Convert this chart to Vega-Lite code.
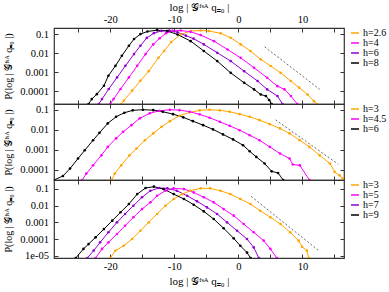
{
  "$schema": "https://vega.github.io/schema/vega-lite/v6.json",
  "padding": {"left": 3, "top": 0, "right": 0, "bottom": 0},
  "background": "white",
  "spacing": 0,
  "bounds": "flush",
  "config": {
    "font": "Liberation Serif",
    "view": {"stroke": "#333", "strokeWidth": 1.2},
    "axis": {
      "domain": false, "grid": false, "tickSize": -4, "tickColor": "#333", "tickWidth": 1,
      "labelFont": "Liberation Serif", "labelFontSize": 10.5, "labelColor": "#000",
      "titleFont": "Liberation Serif", "titleFontSize": 11, "titleFontWeight": "normal", "titleColor": "#000"
    },
    "axisLeft": {"titleFontSize": 10},
    "legend": {
      "orient": "right", "offset": 5, "padding": 0, "rowPadding": -1,
      "labelFont": "Liberation Serif", "labelFontSize": 10, "labelColor": "#000", "labelOffset": 3,
      "symbolType": "stroke", "symbolSize": 64, "symbolStrokeWidth": 1.5
    }
  },
  "datasets": {
    "curves": [
      {"panel":1,"h":"h=2.6","x":-18.3,"p":2.09e-5},{"panel":1,"h":"h=2.6","x":-17.9,"p":3.09e-5},{"panel":1,"h":"h=2.6","x":-16.6,"p":1.05e-4},{"panel":1,"h":"h=2.6","x":-15.3,"p":3.47e-4},{"panel":1,"h":"h=2.6","x":-14.0,"p":1.12e-3},{"panel":1,"h":"h=2.6","x":-12.5,"p":5.62e-3},{"panel":1,"h":"h=2.6","x":-11.6,"p":0.0129},{"panel":1,"h":"h=2.6","x":-10.5,"p":0.038},{"panel":1,"h":"h=2.6","x":-9.0,"p":0.0955},{"panel":1,"h":"h=2.6","x":-7.45,"p":0.145},{"panel":1,"h":"h=2.6","x":-5.9,"p":0.155},{"panel":1,"h":"h=2.6","x":-4.6,"p":0.145},{"panel":1,"h":"h=2.6","x":-2.76,"p":0.11},{"panel":1,"h":"h=2.6","x":-1.2,"p":0.0646},{"panel":1,"h":"h=2.6","x":0.36,"p":0.0288},{"panel":1,"h":"h=2.6","x":1.9,"p":0.0129},{"panel":1,"h":"h=2.6","x":3.5,"p":0.00468},{"panel":1,"h":"h=2.6","x":5.05,"p":0.00209},{"panel":1,"h":"h=2.6","x":6.6,"p":0.000912},{"panel":1,"h":"h=2.6","x":8.2,"p":0.000339},{"panel":1,"h":"h=2.6","x":9.5,"p":0.000151},{"panel":1,"h":"h=2.6","x":10.8,"p":6.61e-5},{"panel":1,"h":"h=2.6","x":11.8,"p":2.95e-5},{"panel":1,"h":"h=2.6","x":12.3,"p":2.09e-5},
      {"panel":1,"h":"h=4","x":-20.0,"p":2.09e-5},{"panel":1,"h":"h=4","x":-19.5,"p":3.8e-5},{"panel":1,"h":"h=4","x":-18.4,"p":1.29e-4},{"panel":1,"h":"h=4","x":-17.1,"p":5.25e-4},{"panel":1,"h":"h=4","x":-15.8,"p":2.14e-3},{"panel":1,"h":"h=4","x":-14.5,"p":8.91e-3},{"panel":1,"h":"h=4","x":-13.3,"p":0.0288},{"panel":1,"h":"h=4","x":-12.3,"p":0.0603},{"panel":1,"h":"h=4","x":-11.3,"p":0.112},{"panel":1,"h":"h=4","x":-10.3,"p":0.148},{"panel":1,"h":"h=4","x":-9.0,"p":0.155},{"panel":1,"h":"h=4","x":-7.45,"p":0.132},{"panel":1,"h":"h=4","x":-5.9,"p":0.0891},{"panel":1,"h":"h=4","x":-3.8,"p":0.0427},{"panel":1,"h":"h=4","x":-1.7,"p":0.0155},{"panel":1,"h":"h=4","x":0.36,"p":0.00562},{"panel":1,"h":"h=4","x":2.45,"p":0.0017},{"panel":1,"h":"h=4","x":4.5,"p":0.000501},{"panel":1,"h":"h=4","x":6.1,"p":0.000182},{"panel":1,"h":"h=4","x":7.2,"p":0.000123},{"panel":1,"h":"h=4","x":8.2,"p":5.5e-5},{"panel":1,"h":"h=4","x":9.2,"p":2.09e-5},
      {"panel":1,"h":"h=6","x":-21.8,"p":2.09e-5},{"panel":1,"h":"h=6","x":-21.3,"p":3.8e-5},{"panel":1,"h":"h=6","x":-20.25,"p":1.29e-4},{"panel":1,"h":"h=6","x":-18.95,"p":5.25e-4},{"panel":1,"h":"h=6","x":-17.65,"p":2.14e-3},{"panel":1,"h":"h=6","x":-16.3,"p":8.91e-3},{"panel":1,"h":"h=6","x":-15.3,"p":0.0245},{"panel":1,"h":"h=6","x":-14.3,"p":0.0631},{"panel":1,"h":"h=6","x":-13.2,"p":0.112},{"panel":1,"h":"h=6","x":-12.0,"p":0.148},{"panel":1,"h":"h=6","x":-10.8,"p":0.155},{"panel":1,"h":"h=6","x":-9.5,"p":0.126},{"panel":1,"h":"h=6","x":-8.2,"p":0.0832},{"panel":1,"h":"h=6","x":-7.0,"p":0.0575},{"panel":1,"h":"h=6","x":-5.4,"p":0.0288},{"panel":1,"h":"h=6","x":-3.3,"p":0.0105},{"panel":1,"h":"h=6","x":-1.2,"p":0.0038},{"panel":1,"h":"h=6","x":0.9,"p":0.00112},{"panel":1,"h":"h=6","x":3.0,"p":0.000339},{"panel":1,"h":"h=6","x":4.5,"p":0.000123},{"panel":1,"h":"h=6","x":6.1,"p":5.5e-5},{"panel":1,"h":"h=6","x":6.9,"p":2.09e-5},
      {"panel":1,"h":"h=8","x":-23.4,"p":2.09e-5},{"panel":1,"h":"h=8","x":-22.9,"p":3.8e-5},{"panel":1,"h":"h=8","x":-22.1,"p":6.92e-5},{"panel":1,"h":"h=8","x":-21.0,"p":1.91e-4},{"panel":1,"h":"h=8","x":-20.3,"p":6.46e-4},{"panel":1,"h":"h=8","x":-19.2,"p":2.14e-3},{"panel":1,"h":"h=8","x":-18.2,"p":7.24e-3},{"panel":1,"h":"h=8","x":-17.1,"p":0.0245},{"panel":1,"h":"h=8","x":-16.3,"p":0.055},{"panel":1,"h":"h=8","x":-15.3,"p":0.1},{"panel":1,"h":"h=8","x":-14.2,"p":0.138},{"panel":1,"h":"h=8","x":-12.7,"p":0.162},{"panel":1,"h":"h=8","x":-11.1,"p":0.145},{"panel":1,"h":"h=8","x":-9.5,"p":0.0955},{"panel":1,"h":"h=8","x":-7.45,"p":0.0427},{"panel":1,"h":"h=8","x":-5.4,"p":0.0129},{"panel":1,"h":"h=8","x":-3.3,"p":0.0038},{"panel":1,"h":"h=8","x":-1.2,"p":0.000912},{"panel":1,"h":"h=8","x":0.9,"p":0.000275},{"panel":1,"h":"h=8","x":2.45,"p":0.000123},{"panel":1,"h":"h=8","x":3.5,"p":6.61e-5},{"panel":1,"h":"h=8","x":4.3,"p":5.5e-5},{"panel":1,"h":"h=8","x":4.8,"p":3.39e-5},{"panel":1,"h":"h=8","x":5.2,"p":2.09e-5},

      {"panel":2,"h":"h=3","x":-19.8,"p":3.16e-5},{"panel":2,"h":"h=3","x":-19.3,"p":6.61e-5},{"panel":2,"h":"h=3","x":-18.3,"p":1.7e-4},{"panel":2,"h":"h=3","x":-17.0,"p":5.37e-4},{"panel":2,"h":"h=3","x":-15.9,"p":1.17e-3},{"panel":2,"h":"h=3","x":-14.6,"p":3.02e-3},{"panel":2,"h":"h=3","x":-13.3,"p":6.61e-3},{"panel":2,"h":"h=3","x":-12.0,"p":0.0141},{"panel":2,"h":"h=3","x":-10.7,"p":0.0269},{"panel":2,"h":"h=3","x":-9.2,"p":0.0501},{"panel":2,"h":"h=3","x":-7.6,"p":0.0741},{"panel":2,"h":"h=3","x":-6.04,"p":0.0933},{"panel":2,"h":"h=3","x":-4.5,"p":0.1},{"panel":2,"h":"h=3","x":-2.9,"p":0.0933},{"panel":2,"h":"h=3","x":-1.35,"p":0.0794},{"panel":2,"h":"h=3","x":0.2,"p":0.0603},{"panel":2,"h":"h=3","x":1.77,"p":0.0447},{"panel":2,"h":"h=3","x":3.3,"p":0.0302},{"panel":2,"h":"h=3","x":4.9,"p":0.0191},{"panel":2,"h":"h=3","x":6.5,"p":0.0117},{"panel":2,"h":"h=3","x":8.0,"p":0.00661},{"panel":2,"h":"h=3","x":9.6,"p":0.00302},{"panel":2,"h":"h=3","x":11.1,"p":0.00141},{"panel":2,"h":"h=3","x":12.7,"p":0.000537},{"panel":2,"h":"h=3","x":14.3,"p":0.000209},{"panel":2,"h":"h=3","x":15.05,"p":7.94e-5},{"panel":2,"h":"h=3","x":15.8,"p":5.37e-5},{"panel":2,"h":"h=3","x":16.3,"p":3.72e-5},
      {"panel":2,"h":"h=4.5","x":-24.4,"p":3.16e-5},{"panel":2,"h":"h=4.5","x":-23.75,"p":6.61e-5},{"panel":2,"h":"h=4.5","x":-22.7,"p":1.7e-4},{"panel":2,"h":"h=4.5","x":-21.4,"p":5.37e-4},{"panel":2,"h":"h=4.5","x":-20.4,"p":1.41e-3},{"panel":2,"h":"h=4.5","x":-19.1,"p":3.72e-3},{"panel":2,"h":"h=4.5","x":-18.0,"p":7.94e-3},{"panel":2,"h":"h=4.5","x":-16.7,"p":0.017},{"panel":2,"h":"h=4.5","x":-15.4,"p":0.0372},{"panel":2,"h":"h=4.5","x":-13.85,"p":0.0661},{"panel":2,"h":"h=4.5","x":-12.3,"p":0.0891},{"panel":2,"h":"h=4.5","x":-10.7,"p":0.1},{"panel":2,"h":"h=4.5","x":-9.2,"p":0.0955},{"panel":2,"h":"h=4.5","x":-7.6,"p":0.0794},{"panel":2,"h":"h=4.5","x":-6.04,"p":0.0589},{"panel":2,"h":"h=4.5","x":-4.5,"p":0.0398},{"panel":2,"h":"h=4.5","x":-2.9,"p":0.0251},{"panel":2,"h":"h=4.5","x":-1.35,"p":0.0158},{"panel":2,"h":"h=4.5","x":0.2,"p":0.00955},{"panel":2,"h":"h=4.5","x":1.77,"p":0.00537},{"panel":2,"h":"h=4.5","x":3.3,"p":0.00302},{"panel":2,"h":"h=4.5","x":4.9,"p":0.00141},{"panel":2,"h":"h=4.5","x":6.5,"p":0.000661},{"panel":2,"h":"h=4.5","x":8.0,"p":0.000372},{"panel":2,"h":"h=4.5","x":8.5,"p":0.000186},{"panel":2,"h":"h=4.5","x":9.6,"p":0.00017},{"panel":2,"h":"h=4.5","x":11.1,"p":3.16e-5},
      {"panel":2,"h":"h=6","x":-28.8,"p":3.16e-5},{"panel":2,"h":"h=6","x":-27.4,"p":5.01e-5},{"panel":2,"h":"h=6","x":-26.3,"p":1.17e-4},{"panel":2,"h":"h=6","x":-25.05,"p":3.72e-4},{"panel":2,"h":"h=6","x":-24.0,"p":9.55e-4},{"panel":2,"h":"h=6","x":-22.7,"p":3.02e-3},{"panel":2,"h":"h=6","x":-21.7,"p":7.08e-3},{"panel":2,"h":"h=6","x":-20.4,"p":0.0209},{"panel":2,"h":"h=6","x":-19.1,"p":0.0447},{"panel":2,"h":"h=6","x":-17.8,"p":0.0708},{"panel":2,"h":"h=6","x":-16.5,"p":0.0933},{"panel":2,"h":"h=6","x":-14.9,"p":0.1},{"panel":2,"h":"h=6","x":-13.3,"p":0.0955},{"panel":2,"h":"h=6","x":-11.8,"p":0.0794},{"panel":2,"h":"h=6","x":-10.2,"p":0.0603},{"panel":2,"h":"h=6","x":-8.6,"p":0.0417},{"panel":2,"h":"h=6","x":-7.1,"p":0.0269},{"panel":2,"h":"h=6","x":-5.5,"p":0.017},{"panel":2,"h":"h=6","x":-3.96,"p":0.0105},{"panel":2,"h":"h=6","x":-2.4,"p":0.00589},{"panel":2,"h":"h=6","x":-0.83,"p":0.00331},{"panel":2,"h":"h=6","x":0.73,"p":0.0017},{"panel":2,"h":"h=6","x":1.77,"p":0.000851},{"panel":2,"h":"h=6","x":2.8,"p":0.000447},{"panel":2,"h":"h=6","x":4.1,"p":0.000209},{"panel":2,"h":"h=6","x":5.2,"p":8.51e-5},{"panel":2,"h":"h=6","x":6.2,"p":7.08e-5},{"panel":2,"h":"h=6","x":7.0,"p":3.16e-5},

      {"panel":3,"h":"h=3","x":-20.0,"p":7.6e-6},{"panel":3,"h":"h=3","x":-19.2,"p":2.09e-5},{"panel":3,"h":"h=3","x":-17.9,"p":4.07e-5},{"panel":3,"h":"h=3","x":-16.6,"p":1.02e-4},{"panel":3,"h":"h=3","x":-15.3,"p":3.16e-4},{"panel":3,"h":"h=3","x":-14.0,"p":1e-3},{"panel":3,"h":"h=3","x":-12.7,"p":3.16e-3},{"panel":3,"h":"h=3","x":-11.4,"p":9.77e-3},{"panel":3,"h":"h=3","x":-10.1,"p":0.0245},{"panel":3,"h":"h=3","x":-8.8,"p":0.0479},{"panel":3,"h":"h=3","x":-7.5,"p":0.0759},{"panel":3,"h":"h=3","x":-5.9,"p":0.105},{"panel":3,"h":"h=3","x":-4.4,"p":0.105},{"panel":3,"h":"h=3","x":-2.8,"p":0.0759},{"panel":3,"h":"h=3","x":-1.25,"p":0.0479},{"panel":3,"h":"h=3","x":0.3,"p":0.0245},{"panel":3,"h":"h=3","x":1.9,"p":0.0123},{"panel":3,"h":"h=3","x":3.4,"p":0.0049},{"panel":3,"h":"h=3","x":5.0,"p":0.002},{"panel":3,"h":"h=3","x":6.6,"p":0.000794},{"panel":3,"h":"h=3","x":8.1,"p":0.000257},{"panel":3,"h":"h=3","x":9.4,"p":8.13e-5},{"panel":3,"h":"h=3","x":9.95,"p":3.55e-5},{"panel":3,"h":"h=3","x":10.7,"p":2.09e-5},{"panel":3,"h":"h=3","x":11.0,"p":7.6e-6},
      {"panel":3,"h":"h=5","x":-22.3,"p":7.6e-6},{"panel":3,"h":"h=5","x":-21.3,"p":2.63e-5},{"panel":3,"h":"h=5","x":-20.3,"p":6.46e-5},{"panel":3,"h":"h=5","x":-18.96,"p":2.04e-4},{"panel":3,"h":"h=5","x":-17.7,"p":6.31e-4},{"panel":3,"h":"h=5","x":-16.4,"p":2.0e-3},{"panel":3,"h":"h=5","x":-15.05,"p":6.17e-3},{"panel":3,"h":"h=5","x":-13.75,"p":0.0155},{"panel":3,"h":"h=5","x":-12.7,"p":0.038},{"panel":3,"h":"h=5","x":-11.4,"p":0.0759},{"panel":3,"h":"h=5","x":-10.1,"p":0.105},{"panel":3,"h":"h=5","x":-8.5,"p":0.0955},{"panel":3,"h":"h=5","x":-6.98,"p":0.0603},{"panel":3,"h":"h=5","x":-5.4,"p":0.0309},{"panel":3,"h":"h=5","x":-3.85,"p":0.0155},{"panel":3,"h":"h=5","x":-2.3,"p":0.00617},{"panel":3,"h":"h=5","x":-0.73,"p":0.00251},{"panel":3,"h":"h=5","x":0.83,"p":0.000794},{"panel":3,"h":"h=5","x":2.4,"p":0.000257},{"panel":3,"h":"h=5","x":3.96,"p":8.13e-5},{"panel":3,"h":"h=5","x":5.0,"p":2.63e-5},{"panel":3,"h":"h=5","x":6.0,"p":7.6e-6},
      {"panel":3,"h":"h=7","x":-23.6,"p":7.6e-6},{"panel":3,"h":"h=7","x":-22.6,"p":2.09e-5},{"panel":3,"h":"h=7","x":-21.6,"p":6.46e-5},{"panel":3,"h":"h=7","x":-20.3,"p":2.57e-4},{"panel":3,"h":"h=7","x":-18.96,"p":1e-3},{"panel":3,"h":"h=7","x":-17.7,"p":3.16e-3},{"panel":3,"h":"h=7","x":-16.4,"p":9.77e-3},{"panel":3,"h":"h=7","x":-15.05,"p":0.0309},{"panel":3,"h":"h=7","x":-13.75,"p":0.0759},{"panel":3,"h":"h=7","x":-12.4,"p":0.11},{"panel":3,"h":"h=7","x":-11.1,"p":0.105},{"panel":3,"h":"h=7","x":-9.6,"p":0.0759},{"panel":3,"h":"h=7","x":-8.0,"p":0.038},{"panel":3,"h":"h=7","x":-6.46,"p":0.0178},{"panel":3,"h":"h=7","x":-4.9,"p":0.00776},{"panel":3,"h":"h=7","x":-3.33,"p":0.00316},{"panel":3,"h":"h=7","x":-1.77,"p":0.001},{"panel":3,"h":"h=7","x":-0.2,"p":0.000316},{"panel":3,"h":"h=7","x":1.35,"p":0.000102},{"panel":3,"h":"h=7","x":2.4,"p":3.24e-5},{"panel":3,"h":"h=7","x":3.2,"p":7.6e-6},
      {"panel":3,"h":"h=9","x":-25.4,"p":7.6e-6},{"panel":3,"h":"h=9","x":-24.2,"p":2.63e-5},{"panel":3,"h":"h=9","x":-23.4,"p":5.13e-5},{"panel":3,"h":"h=9","x":-22.3,"p":1.29e-4},{"panel":3,"h":"h=9","x":-21.0,"p":3.98e-4},{"panel":3,"h":"h=9","x":-19.7,"p":1.26e-3},{"panel":3,"h":"h=9","x":-18.4,"p":3.98e-3},{"panel":3,"h":"h=9","x":-17.1,"p":0.0123},{"panel":3,"h":"h=9","x":-15.8,"p":0.0479},{"panel":3,"h":"h=9","x":-14.5,"p":0.11},{"panel":3,"h":"h=9","x":-13.2,"p":0.132},{"panel":3,"h":"h=9","x":-11.7,"p":0.0955},{"panel":3,"h":"h=9","x":-10.1,"p":0.0479},{"panel":3,"h":"h=9","x":-8.5,"p":0.0245},{"panel":3,"h":"h=9","x":-6.98,"p":0.0112},{"panel":3,"h":"h=9","x":-5.4,"p":0.00447},{"panel":3,"h":"h=9","x":-3.85,"p":0.00158},{"panel":3,"h":"h=9","x":-2.3,"p":0.000447},{"panel":3,"h":"h=9","x":-0.73,"p":0.000112},{"panel":3,"h":"h=9","x":0.3,"p":4.07e-5},{"panel":3,"h":"h=9","x":1.35,"p":1.6e-5},{"panel":3,"h":"h=9","x":1.9,"p":7.6e-6}
    ],
    "refs": [
      {"panel":1,"x":4.1,"p":0.0215},{"panel":1,"x":12.7,"p":0.000123},
      {"panel":2,"x":5.8,"p":0.0316},{"panel":2,"x":15.6,"p":0.000193},
      {"panel":3,"x":2.0,"p":0.035},{"panel":3,"x":12.45,"p":2.24e-5}
    ]
  },
  "resolve": {"scale": {"color": "independent"}},
  "vconcat": [
    {
      "width": 290, "height": 76,
      "resolve": {"axis": {"x": "independent", "y": "independent"}},
      "layer": [
        {
          "data": {"name": "curves"},
          "transform": [{"filter": "datum.panel == 1"}],
          "mark": {"type": "line", "strokeWidth": 1, "clip": true, "point": {"filled": true, "size": 7}},
          "encoding": {
            "x": {"field": "x", "type": "quantitative", "scale": {"domain": [-28.8, 16.5], "nice": false, "zero": false},
                  "axis": {"orient": "bottom", "values": [-25,-20,-15,-10,-5,0,5,10,15], "labels": false, "title": null}},
            "y": {"field": "p", "type": "quantitative", "scale": {"type": "log", "domain": [2.09e-5, 0.21], "nice": false},
                  "axis": {"orient": "left", "values": [0.1, 0.01, 0.001, 0.0001], "labelExpr": "'' + datum.value", "labelPadding": 9.5, "title": "P(log | 𝒢ᶠˢᴬ q₌₀ |)", "titlePadding": 6}},
            "color": {"field": "h", "type": "nominal",
                      "scale": {"domain": ["h=2.6", "h=4", "h=6", "h=8"], "range": ["#ffa500", "#ff00ff", "#9400d3", "#000000"]},
                      "legend": {"title": null}}
          }
        },
        {
          "data": {"name": "refs"},
          "transform": [{"filter": "datum.panel == 1"}],
          "mark": {"type": "line", "strokeDash": [2, 2], "strokeWidth": 0.8, "color": "#444"},
          "encoding": {
            "x": {"field": "x", "type": "quantitative",
                  "axis": {"orient": "top", "values": [-25,-20,-15,-10,-5,0,5,10,15], "labelExpr": "datum.value % 10 === 0 ? '' + datum.value : ''", "labelPadding": 8, "title": "log | 𝒢ᶠˢᴬ q₌₀ |", "titlePadding": 2}},
            "y": {"field": "p", "type": "quantitative",
                  "axis": {"orient": "right", "values": [0.1, 0.01, 0.001, 0.0001], "labels": false, "title": null}}
          }
        }
      ]
    },
    {
      "width": 290, "height": 76,
      "resolve": {"axis": {"x": "independent", "y": "independent"}},
      "layer": [
        {
          "data": {"name": "curves"},
          "transform": [{"filter": "datum.panel == 2"}],
          "mark": {"type": "line", "strokeWidth": 1, "clip": true, "point": {"filled": true, "size": 7}},
          "encoding": {
            "x": {"field": "x", "type": "quantitative", "scale": {"domain": [-28.8, 16.5], "nice": false, "zero": false},
                  "axis": {"orient": "bottom", "values": [-25,-20,-15,-10,-5,0,5,10,15], "labels": false, "title": null}},
            "y": {"field": "p", "type": "quantitative", "scale": {"type": "log", "domain": [3.16e-5, 0.193], "nice": false},
                  "axis": {"orient": "left", "values": [0.1, 0.01, 0.001, 0.0001], "labelExpr": "'' + datum.value", "labelPadding": 9.5, "title": "P(log | 𝒢ᶠˢᴬ q₌₀ |)", "titlePadding": 6}},
            "color": {"field": "h", "type": "nominal",
                      "scale": {"domain": ["h=3", "h=4.5", "h=6"], "range": ["#ffa500", "#ff00ff", "#000000"]},
                      "legend": {"title": null}}
          }
        },
        {
          "data": {"name": "refs"},
          "transform": [{"filter": "datum.panel == 2"}],
          "mark": {"type": "line", "strokeDash": [2, 2], "strokeWidth": 0.8, "color": "#444"},
          "encoding": {
            "x": {"field": "x", "type": "quantitative",
                  "axis": {"orient": "top", "values": [-25,-20,-15,-10,-5,0,5,10,15], "labels": false, "title": null}},
            "y": {"field": "p", "type": "quantitative",
                  "axis": {"orient": "right", "values": [0.1, 0.01, 0.001, 0.0001], "labels": false, "title": null}}
          }
        }
      ]
    },
    {
      "width": 290, "height": 78,
      "resolve": {"axis": {"x": "independent", "y": "independent"}},
      "layer": [
        {
          "data": {"name": "curves"},
          "transform": [{"filter": "datum.panel == 3"}],
          "mark": {"type": "line", "strokeWidth": 1, "clip": true, "point": {"filled": true, "size": 7}},
          "encoding": {
            "x": {"field": "x", "type": "quantitative", "scale": {"domain": [-28.8, 16.5], "nice": false, "zero": false},
                  "axis": {"orient": "bottom", "values": [-25,-20,-15,-10,-5,0,5,10,15], "labelExpr": "datum.value % 10 === 0 ? '' + datum.value : ''", "labelPadding": 7, "title": "log | 𝒢ᶠˢᴬ q₌₀ |", "titlePadding": 4}},
            "y": {"field": "p", "type": "quantitative", "scale": {"type": "log", "domain": [7.6e-6, 0.33], "nice": false},
                  "axis": {"orient": "left", "values": [0.1, 0.01, 0.001, 0.0001, 0.00001], "labelExpr": "datum.value < 5e-5 ? '1e-05' : '' + datum.value", "labelPadding": 9.5, "title": "P(log | 𝒢ᶠˢᴬ q₌₀ |)", "titlePadding": 6}},
            "color": {"field": "h", "type": "nominal",
                      "scale": {"domain": ["h=3", "h=5", "h=7", "h=9"], "range": ["#ffa500", "#ff00ff", "#9400d3", "#000000"]},
                      "legend": {"title": null}}
          }
        },
        {
          "data": {"name": "refs"},
          "transform": [{"filter": "datum.panel == 3"}],
          "mark": {"type": "line", "strokeDash": [2, 2], "strokeWidth": 0.8, "color": "#444"},
          "encoding": {
            "x": {"field": "x", "type": "quantitative",
                  "axis": {"orient": "top", "values": [-25,-20,-15,-10,-5,0,5,10,15], "labels": false, "title": null}},
            "y": {"field": "p", "type": "quantitative",
                  "axis": {"orient": "right", "values": [0.1, 0.01, 0.001, 0.0001, 0.00001], "labels": false, "title": null}}
          }
        }
      ]
    }
  ]
}
